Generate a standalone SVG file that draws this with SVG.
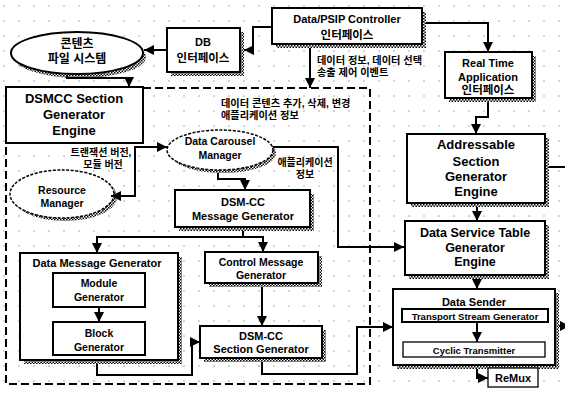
<svg xmlns="http://www.w3.org/2000/svg" width="565" height="394" viewBox="0 0 565 394">
  <defs>
    <pattern id="grid" width="15" height="15" patternUnits="userSpaceOnUse">
      <circle cx="4" cy="6" r="0.7" fill="#8a8a8a"/>
    </pattern>
    <pattern id="dither" width="3" height="3" patternUnits="userSpaceOnUse">
      <rect width="3" height="3" fill="#fff"/>
      <rect width="1.5" height="1.5" fill="#000"/>
      <rect x="1.5" y="1.5" width="1.5" height="1.5" fill="#000"/>
    </pattern>
    <marker id="arrow" viewBox="0 0 10 10" refX="10" refY="5" markerWidth="10" markerHeight="10" markerUnits="userSpaceOnUse" orient="auto-start-reverse">
      <path d="M0,0 L10,5 L0,10 z" fill="#000"/>
    </marker>
  </defs>
  <style>
    .box { fill: #fff; stroke: #000; stroke-width: 2; }
    .thin { fill: #fff; stroke: #000; stroke-width: 1.3; }
    .sh { fill: url(#dither); }
    .ell-dash { fill: #fff; stroke: #000; stroke-width: 1.5; stroke-dasharray: 3 1.5; }
    .t { font-family: "Liberation Sans", Arial, sans-serif; font-weight: bold; text-anchor: middle; fill: #000; }
    .k { font-family: "Liberation Sans", "Noto Sans CJK KR", sans-serif; font-weight: bold; text-anchor: middle; fill: #000; }
    .ks { text-anchor: start; }
    .conn path { fill: none; stroke: #000; stroke-width: 2; }
    .arr { marker-end: url(#arrow); }
    .both { marker-start: url(#arrow); marker-end: url(#arrow); }
    .bound { fill: none; stroke: #000; stroke-width: 2; stroke-dasharray: 8 4; }
  </style>

  <!-- background with dot grid -->
  <rect width="565" height="394" fill="#fff"/>
  <rect width="565" height="394" fill="url(#grid)"/>

  <!-- dashed boundary of the data carousel subsystem -->
  <path class="bound" d="M143,88 H370 V384 H6 V143"/>

  <!-- nodes -->
  <g id="psip-controller">
    <rect class="sh" x="276" y="12" width="150" height="36"/>
    <rect class="box" x="272" y="8" width="150" height="36"/>
    <text class="t" x="347" y="23" font-size="11">Data/PSIP Controller</text>
    <text class="k" x="347" y="39" font-size="11.5">인터페이스</text>
  </g>

  <g id="db-interface">
    <rect class="sh" x="171" y="32" width="73" height="44"/>
    <rect class="box" x="167" y="28" width="73" height="44"/>
    <text class="t" x="203" y="46" font-size="11">DB</text>
    <text class="k" x="203" y="62" font-size="11.5">인터페이스</text>
  </g>

  <g id="content-fs">
    <ellipse class="sh" cx="80" cy="57" rx="66" ry="21"/>
    <ellipse class="box" cx="77" cy="53" rx="66" ry="21"/>
    <text class="k" x="77" y="48" font-size="12">콘텐츠</text>
    <text class="k" x="77" y="63" font-size="12">파일 시스템</text>
  </g>

  <g id="dsmcc-engine">
    <rect class="box" x="6" y="87" width="137" height="56"/>
    <text class="t" x="74" y="103" font-size="13">DSMCC Section</text>
    <text class="t" x="74" y="119" font-size="13">Generator</text>
    <text class="t" x="74" y="135" font-size="13">Engine</text>
  </g>

  <g id="carousel-manager">
    <ellipse class="sh" cx="223" cy="153" rx="53" ry="20"/>
    <ellipse class="ell-dash" cx="220" cy="150" rx="53" ry="20"/>
    <text class="t" x="220" y="145" font-size="10.5">Data Carousel</text>
    <text class="t" x="220" y="159" font-size="10.5">Manager</text>
  </g>

  <g id="resource-manager">
    <ellipse class="sh" cx="65" cy="197" rx="52" ry="24"/>
    <ellipse class="ell-dash" cx="62" cy="194" rx="52" ry="24"/>
    <text class="t" x="62" y="194" font-size="10.5">Resource</text>
    <text class="t" x="62" y="207" font-size="10.5">Manager</text>
  </g>

  <g id="dsmcc-message-gen">
    <rect class="sh" x="179" y="194" width="135" height="37"/>
    <rect class="box" x="175" y="190" width="135" height="37"/>
    <text class="t" x="243" y="206" font-size="11">DSM-CC</text>
    <text class="t" x="243" y="220" font-size="11">Message Generator</text>
  </g>

  <g id="data-message-gen">
    <rect class="sh" x="24" y="257" width="158" height="107"/>
    <rect class="box" x="20" y="253" width="158" height="107"/>
    <text class="t" x="97" y="267" font-size="11">Data Message Generator</text>
  </g>

  <g id="module-gen">
    <rect class="box" x="53" y="273" width="92" height="34"/>
    <text class="t" x="99" y="287" font-size="10.5">Module</text>
    <text class="t" x="99" y="301" font-size="10.5">Generator</text>
  </g>

  <g id="block-gen">
    <rect class="box" x="53" y="322" width="92" height="33"/>
    <text class="t" x="99" y="337" font-size="10.5">Block</text>
    <text class="t" x="99" y="351" font-size="10.5">Generator</text>
  </g>

  <g id="control-message-gen">
    <rect class="sh" x="209" y="256" width="113" height="31"/>
    <rect class="box" x="205" y="252" width="113" height="31"/>
    <text class="t" x="261" y="266" font-size="10.5">Control Message</text>
    <text class="t" x="261" y="279" font-size="10.5">Generator</text>
  </g>

  <g id="dsmcc-section-gen">
    <rect class="sh" x="204" y="330" width="122" height="32"/>
    <rect class="box" x="200" y="326" width="122" height="32"/>
    <text class="t" x="261" y="340" font-size="11">DSM-CC</text>
    <text class="t" x="261" y="353" font-size="11">Section Generator</text>
  </g>

  <g id="realtime-interface">
    <rect class="sh" x="449" y="56" width="87" height="46"/>
    <rect class="box" x="445" y="52" width="87" height="46"/>
    <text class="t" x="488" y="67" font-size="11">Real Time</text>
    <text class="t" x="488" y="81" font-size="11">Application</text>
    <text class="k" x="488" y="94" font-size="11.5">인터페이스</text>
  </g>

  <g id="addressable-engine">
    <rect class="sh" x="411" y="138" width="138" height="69"/>
    <rect class="box" x="407" y="134" width="138" height="69"/>
    <text class="t" x="476" y="149" font-size="13">Addressable</text>
    <text class="t" x="476" y="166" font-size="13">Section</text>
    <text class="t" x="476" y="181" font-size="13">Generator</text>
    <text class="t" x="476" y="196" font-size="13">Engine</text>
  </g>

  <g id="dst-engine">
    <rect class="sh" x="409" y="225" width="140" height="54"/>
    <rect class="box" x="405" y="221" width="140" height="54"/>
    <text class="t" x="475" y="237" font-size="12.5">Data Service Table</text>
    <text class="t" x="475" y="252" font-size="12.5">Generator</text>
    <text class="t" x="475" y="266" font-size="12.5">Engine</text>
  </g>

  <g id="data-sender">
    <rect class="sh" x="397" y="293" width="162" height="76"/>
    <rect class="box" x="393" y="289" width="162" height="76"/>
    <text class="t" x="474" y="306" font-size="11">Data Sender</text>
  </g>

  <g id="ts-generator">
    <rect class="box" x="402" y="309" width="146" height="13"/>
    <text class="t" x="475" y="319.5" font-size="9.5">Transport Stream Generator</text>
  </g>

  <g id="cyclic-transmitter">
    <rect class="thin" x="403" y="342" width="142" height="15"/>
    <text class="t" x="474" y="354" font-size="9.5">Cyclic Transmitter</text>
  </g>

  <g id="remux">
    <rect class="thin" x="488" y="368" width="50" height="19"/>
    <text class="t" x="513" y="382" font-size="11">ReMux</text>
  </g>

  <!-- connectors -->
  <g class="conn">
    <path class="arr" d="M272,27 H253 V50 H244"/>
    <path class="arr" d="M167,50 H144"/>
    <path class="arr" d="M67,75 V78 H129 V87"/>
    <path class="arr" d="M310,48 V88"/>
    <path class="both" d="M111,196 H135 V147 H167"/>
    <path class="arr" d="M218,173 V179 H245 V190"/>
    <path class="arr" d="M273,147 H338 V247 H404"/>
    <path class="arr" d="M243,231 V237 H97 V253"/>
    <path class="arr" d="M243,237 H263 V252"/>
    <path class="arr" d="M99,307 V322"/>
    <path class="arr" d="M97,364 V375 H192 V342 H200"/>
    <path class="arr" d="M262,287 V326"/>
    <path class="arr" d="M262,362 V374 H357 V327 H393"/>
    <path class="arr" d="M426,23 H488 V52"/>
    <path class="arr" d="M488,102 V117 H476 V134"/>
    <path d="M549,167 H565"/>
    <path class="arr" d="M477,207 V221"/>
    <path class="arr" d="M477,279 V289"/>
    <path class="arr" d="M477,322 V342"/>
    <path class="arr" d="M559,326 H570"/>
    <path class="arr" d="M477,369 V378 H488"/>
  </g>

  <!-- connector labels -->
  <g id="labels">
    <text class="k ks" x="317" y="64" font-size="10.2">데이터 정보, 데이터 선택</text>
    <text class="k ks" x="317" y="76" font-size="10.2">송출 제어 이벤트</text>
    <text class="k ks" x="221" y="107" font-size="10.2">데이터 콘텐츠 추가, 삭제, 변경</text>
    <text class="k ks" x="221" y="119" font-size="10.2">애플리케이션 정보</text>
    <text class="k" x="101" y="156" font-size="10">트랜잭션 버전,</text>
    <text class="k" x="103" y="168" font-size="10">모듈 버전</text>
    <text class="k" x="305" y="166" font-size="10">애플리케이션</text>
    <text class="k" x="305" y="178" font-size="10">정보</text>
  </g>
</svg>
